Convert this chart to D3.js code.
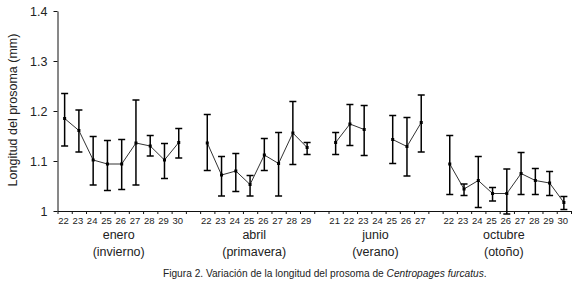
<!DOCTYPE html>
<html>
<head>
<meta charset="utf-8">
<script src="https://cdn.jsdelivr.net/npm/d3@7"></script>
<style>
  body { margin: 0; background: #fff; }
  svg { display: block; font-family: "Liberation Sans", Arial, sans-serif; }
</style>
</head>
<body>
<svg id="chart" width="575" height="285"></svg>
<script>
const months = ["enero", "abril", "junio", "octubre"];
const seasons = ["(invierno)", "(primavera)", "(verano)", "(otoño)"];
const days = [
    [22, 23, 24, 25, 26, 27, 28, 29, 30],
    [22, 23, 24, 25, 26, 27, 28, 29],
    [21, 22, 23, 24, 25, 26, 27],
    [22, 23, 24, 25, 26, 27, 28, 29, 30]
];
const means = [
    [1.185, 1.161, 1.102, 1.094, 1.094, 1.136, 1.130, 1.102, 1.137],
    [1.136, 1.072, 1.080, 1.053, 1.112, 1.095, 1.156, 1.127],
    [1.137, 1.174, 1.163, null, 1.143, 1.129, 1.177],
    [1.094, 1.044, 1.061, 1.035, 1.035, 1.075, 1.061, 1.056, 1.017]
];
const upper = [
    [1.235, 1.202, 1.149, 1.141, 1.143, 1.222, 1.151, 1.135, 1.165],
    [1.193, 1.109, 1.115, 1.071, 1.145, 1.157, 1.219, 1.137],
    [1.157, 1.213, 1.211, null, 1.191, 1.187, 1.232],
    [1.151, 1.054, 1.109, 1.047, 1.084, 1.117, 1.085, 1.079, 1.029]
];
const lower = [
    [1.130, 1.118, 1.052, 1.041, 1.043, 1.052, 1.110, 1.065, 1.106],
    [1.081, 1.030, 1.039, 1.030, 1.081, 1.030, 1.093, 1.113],
    [1.113, 1.131, 1.111, null, 1.095, 1.070, 1.118],
    [1.033, 1.031, 1.007, 1.020, 0.994, 1.033, 1.033, 1.031, 1.003]
];
const yTicks = [1, 1.1, 1.2, 1.3, 1.4];

// flatten into slots, one empty slot between months
var slots = [];
var groupSlots = [];
months.forEach(function(m, gi) {
    if (gi > 0) slots.push(null);
    var ids = [];
    days[gi].forEach(function(d, i) {
        ids.push(slots.length);
        slots.push({group: gi, day: d, mean: means[gi][i], hi: upper[gi][i], lo: lower[gi][i]});
    });
    groupSlots.push(ids);
});

var svg = d3.select("#chart");
const x0 = 57.5, x1 = 571, yTop = 11, yBottom = 211;

var x = d3.scaleBand().domain(d3.range(slots.length)).range([x0, x1]);
var xTick = d3.scaleLinear().domain([0, slots.length]).range([x0, x1]);
var y = d3.scaleLinear().domain([1, 1.4]).range([yBottom, yTop]);
var cx = i => x(i) + x.bandwidth() / 2;

// y axis
var yAxis = svg.append("g")
    .attr("transform", "translate(" + x0 + ",0)")
    .call(d3.axisLeft(y).tickValues(yTicks).tickSize(4).tickSizeOuter(0).tickPadding(6)
        .tickFormat(d => d === 1 ? "1" : d3.format(".1f")(d)));
yAxis.selectAll("text").attr("font-size", 12.5).attr("fill", "#222").attr("font-family", "Liberation Sans, Arial, sans-serif");
yAxis.selectAll("line, path").attr("stroke", "#111");

// x axis: ticks on slot boundaries
var xAxis = svg.append("g")
    .attr("transform", "translate(0," + yBottom + ")")
    .call(d3.axisBottom(xTick).tickValues(d3.range(slots.length + 1)).tickSize(3).tickSizeOuter(0).tickFormat(""));
xAxis.selectAll("line, path").attr("stroke", "#111");

// day labels
svg.append("g").selectAll("text")
    .data(slots.map((s, i) => ({s: s, i: i})).filter(d => d.s))
    .join("text")
    .attr("x", d => cx(d.i) - 1)
    .attr("y", 223.5)
    .attr("text-anchor", "middle")
    .attr("font-size", 9.5)
    .attr("fill", "#222")
    .text(d => d.s.day);

// month / season labels
groupSlots.forEach(function(ids, gi) {
    var mid = (cx(ids[0]) + cx(ids[ids.length - 1])) / 2 - 3;
    svg.append("text").attr("x", mid).attr("y", 239)
        .attr("text-anchor", "middle").attr("font-size", 12.5).attr("fill", "#222")
        .text(months[gi]);
    svg.append("text").attr("x", mid).attr("y", 255.5)
        .attr("text-anchor", "middle").attr("font-size", 12.5).attr("fill", "#222")
        .text(seasons[gi]);
});

// y title
svg.append("text")
    .attr("transform", "translate(17,110) rotate(-90)")
    .attr("text-anchor", "middle")
    .attr("font-size", 12.5)
    .attr("fill", "#222")
    .text("Longitud del prosoma (mm)");

// lines per month (break at missing days)
var line = d3.line()
    .defined(d => d.s.mean != null)
    .x(d => cx(d.i))
    .y(d => y(d.s.mean));

groupSlots.forEach(function(ids) {
    svg.append("path")
        .datum(ids.map(i => ({s: slots[i], i: i})))
        .attr("fill", "none")
        .attr("stroke", "#333")
        .attr("stroke-width", 1)
        .attr("d", line);
});

// error bars
var pts = slots.map((s, i) => ({s: s, i: i})).filter(d => d.s && d.s.mean != null);
var eb = svg.append("g").attr("stroke", "#000").attr("stroke-width", 1.5);
pts.forEach(function(d) {
    var px = cx(d.i);
    eb.append("line").attr("x1", px).attr("x2", px).attr("y1", y(d.s.hi)).attr("y2", y(d.s.lo));
    eb.append("line").attr("x1", px - 3.5).attr("x2", px + 3.5).attr("y1", y(d.s.hi)).attr("y2", y(d.s.hi));
    eb.append("line").attr("x1", px - 3.5).attr("x2", px + 3.5).attr("y1", y(d.s.lo)).attr("y2", y(d.s.lo));
});

// markers
svg.append("g").selectAll("rect")
    .data(pts)
    .join("rect")
    .attr("x", d => cx(d.i) - 1.5)
    .attr("y", d => y(d.s.mean) - 1.5)
    .attr("width", 3)
    .attr("height", 3)
    .attr("fill", "#000");

// caption, squeezed horizontally to the narrow look of the original
var capG = svg.append("g");
var cap = capG.append("text")
    .attr("x", 0)
    .attr("y", 0)
    .attr("font-size", 10.5)
    .attr("fill", "#222");
cap.append("tspan").text("Figura 2. Variación de la longitud del prosoma de ");
cap.append("tspan").attr("font-style", "italic").text("Centropages furcatus");
cap.append("tspan").text(".");
var capW = cap.node().getComputedTextLength();
capG.attr("transform", "translate(163,277) scale(" + (324 / capW) + ",1)");
</script>
</body>
</html>
